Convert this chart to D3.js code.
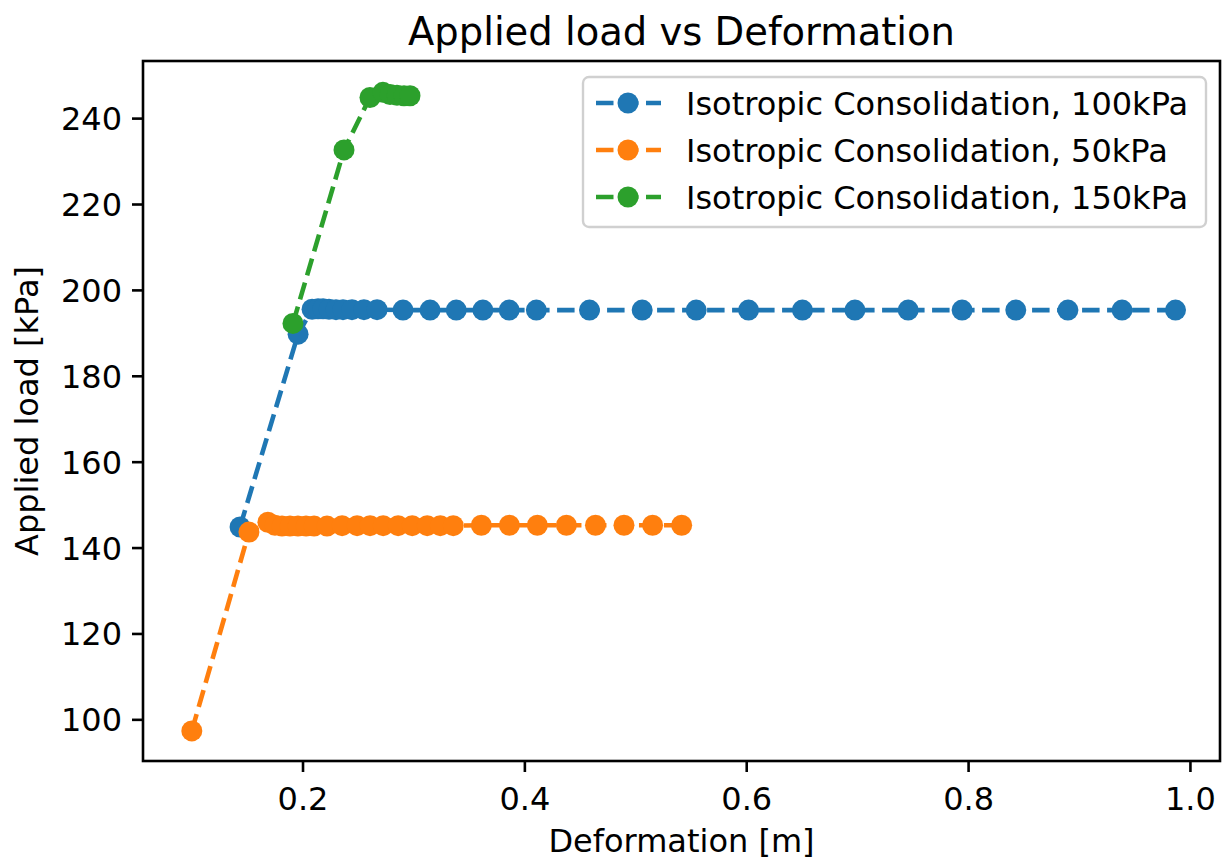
<!DOCTYPE html>
<html>
<head>
<meta charset="utf-8">
<script src="https://cdn.jsdelivr.net/npm/d3@7"></script>
<style>
  html, body { margin: 0; padding: 0; background: #fff; }
  svg { display: block; }
  text { font-family: "DejaVu Sans", sans-serif; fill: #000; }
</style>
</head>
<body>
<svg id="chart" width="1222" height="863"></svg>
<script>
// ---- data ----
const seriesNames = ["Isotropic Consolidation, 100kPa", "Isotropic Consolidation, 50kPa", "Isotropic Consolidation, 150kPa"];
const seriesColors = ["#1f77b4", "#ff7f0e", "#2ca02c"];

const x100 = [0.1437, 0.196, 0.2086, 0.214, 0.2185, 0.2239, 0.2302, 0.2365, 0.2446, 0.2554, 0.2672, 0.2906,
              0.315, 0.3386, 0.3626, 0.3863, 0.4108, 0.4587, 0.5062, 0.5549, 0.6021, 0.6507, 0.698, 0.746,
              0.7946, 0.843, 0.890, 0.9388, 0.987];
const y100 = [144.8, 189.7, 195.5, 195.6, 195.6, 195.5, 195.4, 195.4, 195.4, 195.4, 195.4, 195.3,
              195.3, 195.3, 195.3, 195.3, 195.3, 195.3, 195.3, 195.3, 195.3, 195.3, 195.3, 195.3,
              195.3, 195.3, 195.3, 195.3, 195.3];

const x50 = [0.1002, 0.1517, 0.1688, 0.1752, 0.1815, 0.1887, 0.1959, 0.2032, 0.2104, 0.2221, 0.2357, 0.2492,
             0.2609, 0.2727, 0.2862, 0.2989, 0.3124, 0.3242, 0.3359, 0.3612, 0.3865, 0.4117, 0.4379, 0.4641,
             0.4898, 0.5156, 0.5418];
const y50 = [97.3, 143.6, 145.9, 145.2, 145.0, 145.0, 145.0, 145.0, 145.0, 145.0, 145.1, 145.1,
             145.1, 145.1, 145.1, 145.1, 145.1, 145.1, 145.1, 145.2, 145.2, 145.2, 145.2, 145.2,
             145.2, 145.2, 145.2];

const x150 = [0.1914, 0.2374, 0.2608, 0.2725, 0.2789, 0.2852, 0.2915, 0.2969];
const y150 = [192.2, 232.6, 244.8, 246.0, 245.5, 245.3, 245.2, 245.2];

const xTicks = [0.2, 0.4, 0.6, 0.8, 1.0];
const yTicks = [100, 120, 140, 160, 180, 200, 220, 240];

const titleText = "Applied load vs Deformation";
const xLabelText = "Deformation [m]";
const yLabelText = "Applied load [kPa]";

// ---- layout ----
const L = 143, R = 1220, T = 61, B = 761;
const svg = d3.select("#chart");
const x = d3.scaleLinear().domain([0.0562, 1.0271]).range([L, R]);
const y = d3.scaleLinear().domain([90.3, 253.3]).range([B, T]);

const series = [
  { name: seriesNames[0], color: seriesColors[0], xs: x100, ys: y100 },
  { name: seriesNames[1], color: seriesColors[1], xs: x50, ys: y50 },
  { name: seriesNames[2], color: seriesColors[2], xs: x150, ys: y150 }
];

const dash = "17.5,7.5";
const lw = 4.6;
const mr = 10.5;

const plot = svg.append("g");
const line = d3.line().x(d => x(d[0])).y(d => y(d[1]));

series.forEach(s => {
  const pts = s.xs.map((v, i) => [v, s.ys[i]]);
  const g = plot.append("g");
  g.append("path").attr("d", line(pts))
    .attr("fill", "none").attr("stroke", s.color)
    .attr("stroke-width", lw).attr("stroke-dasharray", dash);
  g.selectAll("circle").data(pts).enter().append("circle")
    .attr("cx", d => x(d[0])).attr("cy", d => y(d[1])).attr("r", mr)
    .attr("fill", s.color);
});

// axes
const xAxis = d3.axisBottom(x).tickValues(xTicks).tickFormat(d3.format(".1f")).tickSize(11).tickPadding(8);
const yAxis = d3.axisLeft(y).tickValues(yTicks).tickFormat(d3.format("d")).tickSize(11).tickPadding(10);

const gx = svg.append("g").attr("transform", `translate(0,${B})`).call(xAxis);
const gy = svg.append("g").attr("transform", `translate(${L},0)`).call(yAxis);
[gx, gy].forEach(g => {
  g.select(".domain").remove();
  g.selectAll(".tick line").attr("stroke", "#000").attr("stroke-width", 2.6);
  g.selectAll(".tick text").attr("font-size", 32).attr("font-family", "DejaVu Sans").attr("fill", "#000");
});
gx.selectAll(".tick text").attr("dy", null).attr("y", null).attr("dominant-baseline", "auto")
  .attr("transform", null).each(function(){ d3.select(this).attr("y", 49); });
gy.selectAll(".tick text").attr("dy", "0.36em");

// spines
svg.append("rect").attr("x", L).attr("y", T).attr("width", R - L).attr("height", B - T)
  .attr("fill", "none").attr("stroke", "#000").attr("stroke-width", 2.6);

// title & labels
svg.append("text").attr("x", (L + R) / 2).attr("y", 45).attr("text-anchor", "middle")
  .attr("font-size", 38.5).text(titleText);
svg.append("text").attr("x", (L + R) / 2).attr("y", 852).attr("text-anchor", "middle")
  .attr("font-size", 32).text(xLabelText);
svg.append("text").attr("transform", `translate(38,${(T + B) / 2}) rotate(-90)`)
  .attr("text-anchor", "middle").attr("font-size", 32).text(yLabelText);

// legend
const lg = svg.append("g");
lg.append("rect").attr("x", 583).attr("y", 77).attr("width", 623).attr("height", 150)
  .attr("rx", 6).attr("fill", "#fff").attr("fill-opacity", 0.8)
  .attr("stroke", "#d0d0d0").attr("stroke-width", 2.4);
series.forEach((s, i) => {
  const cy = 103 + i * 47;
  lg.append("line").attr("x1", 596).attr("x2", 661).attr("y1", cy).attr("y2", cy)
    .attr("stroke", s.color).attr("stroke-width", lw).attr("stroke-dasharray", dash)
    .attr("stroke-dashoffset", 0);
  lg.append("circle").attr("cx", 628).attr("cy", cy).attr("r", mr).attr("fill", s.color);
  lg.append("text").attr("x", 686).attr("y", cy).attr("dy", "0.36em")
    .attr("font-size", 32).text(s.name);
});
</script>
</body>
</html>
